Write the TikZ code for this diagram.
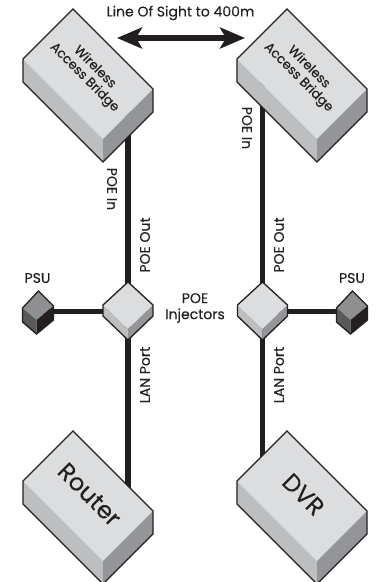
\documentclass[tikz,border=0pt]{standalone}
\usepackage{fontspec}
\setmainfont{Poppins}[FakeBold=0.25]
\usepackage{xcolor}
\usetikzlibrary{arrows.meta, backgrounds}

\definecolor{inkblack}{HTML}{231F20}
\definecolor{faceA}{HTML}{DCDDDE}
\definecolor{faceB}{HTML}{BCBEC0}
\definecolor{faceC}{HTML}{939598}
\definecolor{psuA}{HTML}{8E8F91}
\definecolor{psuB}{HTML}{58595B}

\begin{document}
\begin{tikzpicture}[
    x=1pt, y=-1pt,
    rim/.style={draw=inkblack, line width=1.3pt, line join=miter, fill=none},
    cable/.style={draw=inkblack, line width=5.5pt},
    lbl/.style={font=\fontsize{14}{16}\selectfont, text=inkblack, align=center, inner sep=0pt},
    boxlbl/.style={lbl, rotate=-45, font=\fontsize{13}{14.5}\selectfont},
    biglbl/.style={lbl, rotate=-45, font=\fontsize{24}{26}\selectfont},
    pics/slab/.style={code={
        \fill[faceA] (0,0) -- (-50,50) -- (30,130) -- (80,80) -- cycle;
        \fill[faceB] (-50,50) -- (30,130) -- (30,153) -- (-50,73) -- cycle;
        \fill[faceC] (80,80) -- (30,130) -- (30,153) -- (80,103) -- cycle;
        \draw[rim] (0,0) -- (-50,50) -- (-50,73) -- (30,153) -- (80,103) -- (80,80) -- cycle;
        \coordinate (-mid) at (15,65);
        \coordinate (-top) at (16.5,63.5);
    }},
    pics/injector/.style={code={
        \fill[faceA] (0,0) -- (-25,23) -- (0,47) -- (25,23) -- cycle;
        \fill[faceB] (-25,23) -- (0,47) -- (0,58) -- (-25,34) -- cycle;
        \fill[faceC] (25,23) -- (0,47) -- (0,58) -- (25,34) -- cycle;
        \draw[rim] (0,0) -- (-25,23) -- (-25,34) -- (0,58) -- (25,34) -- (25,23) -- cycle;
        \coordinate (-mid) at (0,29.5);
    }},
    pics/psu/.style={code={
        \fill[psuA] (0,0) -- (-16,17) -- (-2,29) -- (15,15) -- cycle;
        \fill[psuB] (-16,17) -- (-2,29) -- (-2,43) -- (-16,31) -- cycle;
        \fill[inkblack] (15,15) -- (-2,29) -- (-2,43) -- (15,29) -- cycle;
        \draw[rim] (0,0) -- (-16,17) -- (-16,31) -- (-2,43) -- (15,29) -- (15,15) -- cycle;
        \coordinate (-mid) at (0,20.5);
    }}
]
\useasboundingbox (0,0) rectangle (377,582);

\pic (bridgeL) at (73,9) {slab};
\pic (bridgeR) at (287,9) {slab};
\pic (router) at (73,431) {slab};
\pic (dvr) at (287,431) {slab};
\pic (injL) at (128,282) {injector};
\pic (injR) at (262.5,282) {injector};
\pic (psuL) at (38.5,291) {psu};
\pic (psuR) at (352.5,291) {psu};

\node[boxlbl] (bridgeLtext) at (bridgeL-top) {Wireless\\Access Bridge};
\node[boxlbl] (bridgeRtext) at (bridgeR-top) {Wireless\\Access Bridge};
\node[biglbl] (routertext) at (router-top) {Router};
\node[biglbl] (dvrtext) at (dvr-top) {DVR};

\begin{pgfonlayer}{background}
\draw[cable] (injL-mid) -- (injL-mid |- bridgeL-mid);
\draw[cable] (injL-mid) -- (injL-mid |- router-mid);
\draw[cable] (injR-mid) -- (injR-mid |- bridgeR-mid);
\draw[cable] (injR-mid) -- (injR-mid |- dvr-mid);
\draw[cable] (injL-mid) -- (psuL-mid |- injL-mid);
\draw[cable] (injR-mid) -- (psuR-mid |- injR-mid);
\end{pgfonlayer}

\coordinate (sightL) at (117,38);
\coordinate (sightR) at (245,38);
\draw[cable, {Stealth[length=25pt, width=21pt, inset=6pt]}-{Stealth[length=25pt, width=21pt, inset=6pt]}] (sightL) -- (sightR);

\node[lbl] (sight) at (180.5,13) {Line Of Sight to 400m};
\node[lbl] (psuLtext) at (37.5,278) {PSU};
\node[lbl] (psuRtext) at (352,278) {PSU};
\node[lbl] (injtext) at (195,308) {POE\\Injectors};
\node[lbl, rotate=-90] (inLtext) at (112,189) {POE In};
\node[lbl, rotate=-90] (inRtext) at (247,128) {POE In};
\node[lbl, rotate=90] (outLtext) at (145,245) {POE Out};
\node[lbl, rotate=90] (outRtext) at (279,245) {POE Out};
\node[lbl, rotate=90] (lanLtext) at (145,375) {LAN Port};
\node[lbl, rotate=90] (lanRtext) at (279,375) {LAN Port};

\end{tikzpicture}
\end{document}
